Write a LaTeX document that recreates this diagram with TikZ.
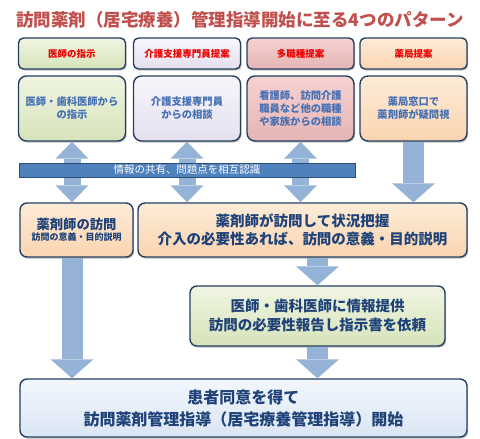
\documentclass[tikz,border=0pt]{standalone}
\usepackage{fontspec}
\setmainfont{Noto Sans CJK JP}
\usetikzlibrary{arrows.meta,shadows}
\definecolor{navy}{RGB}{36,64,97}
\definecolor{arrowc}{RGB}{149,179,215}
\definecolor{titlered}{RGB}{192,80,77}
\definecolor{hdred}{RGB}{235,0,0}
\definecolor{midblue}{RGB}{70,112,180}
\definecolor{darkblue}{RGB}{31,66,120}
\definecolor{bannerfill}{RGB}{79,129,189}
\definecolor{bannerdraw}{RGB}{44,77,117}
\definecolor{gTop}{RGB}{240,245,226}\definecolor{gBot}{RGB}{214,227,186}
\definecolor{lTop}{RGB}{248,246,252}\definecolor{lBot}{RGB}{228,223,238}
\definecolor{pTop}{RGB}{246,210,209}\definecolor{pBot}{RGB}{228,181,180}
\definecolor{oTop}{RGB}{253,236,216}\definecolor{oBot}{RGB}{250,212,176}
\definecolor{bTop}{RGB}{242,247,253}\definecolor{bBot}{RGB}{218,229,243}
\tikzset{
  box/.style={draw=navy, line width=1.4pt, align=center, font=\bfseries, inner sep=2pt,
    drop shadow={shadow xshift=1.2pt, shadow yshift=-1.6pt, opacity=.35, fill=black!70}},
  hdbox/.style={box, rounded corners=5pt, minimum width=107pt, minimum height=31pt,
    font=\bfseries\fontsize{9.5}{11}\selectfont, text=hdred},
  r2box/.style={box, rounded corners=8pt, minimum width=107pt, minimum height=65pt,
    font=\bfseries\fontsize{10.3}{13}\selectfont, text=midblue},
  r3box/.style={box, rounded corners=7pt, text=darkblue},
  green/.style={top color=gTop, bottom color=gBot},
  lav/.style={top color=lTop, bottom color=lBot},
  pink/.style={top color=pTop, bottom color=pBot},
  peach/.style={top color=oTop, bottom color=oBot},
  lblue/.style={top color=bTop, bottom color=bBot},
  dblarrow/.style={draw=arrowc, line width=17pt,
    {Triangle[length=17pt,width=33pt,line width=0pt]}-{Triangle[length=17pt,width=33pt,line width=0pt]}},
  sglarrow/.style={draw=arrowc, line width=21pt,
    -{Triangle[length=19pt,width=43pt,line width=0pt]}},
}
\begin{document}
\begin{tikzpicture}[x=1pt,y=1pt]
\useasboundingbox (0,0) rectangle (480,-439);
\node[font=\bfseries\fontsize{17.5}{20}\selectfont, text=titlered] (title) at (240,-20)
  {訪問薬剤（居宅療養）管理指導開始に至る4つのパターン};

\node[hdbox, green] (h1) at (72,-53.5) {医師の指示};
\node[hdbox, lav]   (h2) at (187,-53.5) {介護支援専門員提案};
\node[hdbox, pink]  (h3) at (300.5,-53.5) {多職種提案};
\node[hdbox, peach] (h4) at (413.5,-53.5) {薬局提案};

\node[r2box, green] (p1) at (72,-108.5) {医師・歯科医師から\\の指示};
\node[r2box, lav]   (p2) at (187,-108.5) {介護支援専門員\\からの相談};
\node[r2box, pink]  (p3) at (300.5,-108.5) {看護師、訪問介護\\職員など他の職種\\や家族からの相談};
\node[r2box, peach] (p4) at (413.5,-108.5) {薬局窓口で\\薬剤師が疑問視};

\node[r3box, peach, minimum width=113pt, minimum height=54pt] (va) at (76.5,-230)
  {{\fontsize{13.3}{16}\selectfont 薬剤師の訪問}\\[-1pt]{\fontsize{9}{11}\selectfont 訪問の意義・目的説明}};
\node[r3box, peach, minimum width=329pt, minimum height=54pt,
  font=\bfseries\fontsize{14.5}{18}\selectfont] (vb) at (302.5,-230)
  {薬剤師が訪問して状況把握\\介入の必要性あれば、訪問の意義・目的説明};

\node[r3box, green, minimum width=255pt, minimum height=60pt,
  font=\bfseries\fontsize{14.5}{19}\selectfont] (vc) at (317.5,-316)
  {医師・歯科医師に情報提供\\訪問の必要性報告し指示書を依頼};

\node[r3box, lblue, minimum width=447pt, minimum height=58pt,
  font=\bfseries\fontsize{16}{22}\selectfont] (vd) at (243.5,-408)
  {患者同意を得て\\訪問薬剤管理指導（居宅療養管理指導）開始};

\draw[dblarrow] (p1.south) -- (p1.south |- va.north);
\draw[dblarrow] (p2.south) -- (p2.south |- vb.north);
\draw[dblarrow] (p3.south) -- (p3.south |- vb.north);
\draw[sglarrow] (p4.south) -- (p4.south |- vb.north);
\draw[sglarrow] (vc.north |- vb.south) -- (vc.north);
\draw[sglarrow] (p1.south |- va.south) -- (p1.south |- vd.north);
\draw[sglarrow] (vc.south) -- (vc.south |- vd.north);

\node[draw=bannerdraw, line width=1pt, fill=bannerfill, minimum width=336pt, minimum height=14pt,
  inner sep=0pt, text=white, font=\fontsize{10.5}{12}\selectfont] (banner) at (187,-170)
  {情報の共有、問題点を相互認識};
\end{tikzpicture}
\end{document}
